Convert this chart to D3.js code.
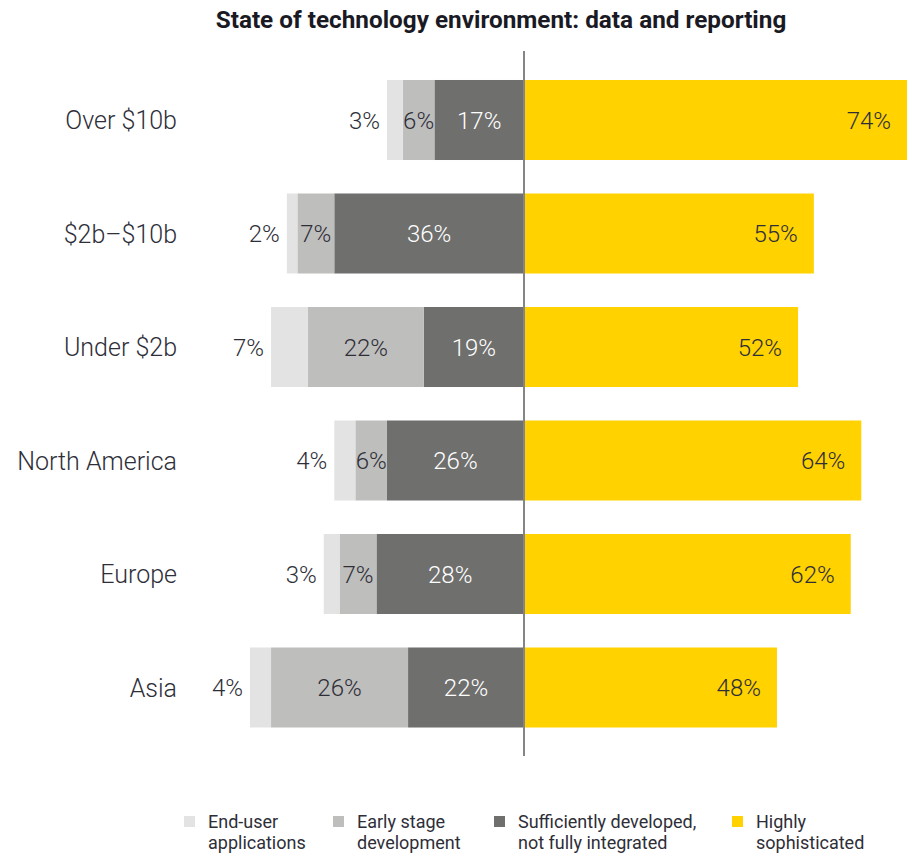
<!DOCTYPE html>
<html>
<head>
<meta charset="utf-8">
<script src="https://cdn.jsdelivr.net/npm/d3@7"></script>
<style>
  html, body { margin: 0; padding: 0; background: #ffffff; }
  svg { display: block; }
  text { font-family: Roboto, "Noto Sans", sans-serif; fill: #2e2e38; }
</style>
</head>
<body>
<svg id="chart" width="907" height="854"></svg>
<script>
// Survey groups, top to bottom
const categories = ["Over $10b", "$2b\u2013$10b", "Under $2b", "North America", "Europe", "Asia"];

// Share of respondents per maturity level (%)
const endUser      = [3, 2, 7, 4, 3, 4];
const earlyStage   = [6, 7, 22, 6, 7, 26];
const sufficiently = [17, 36, 19, 26, 28, 22];
const highly       = [74, 55, 52, 64, 62, 48];

const legendLabels = [
  ["End-user", "applications"],
  ["Early stage", "development"],
  ["Sufficiently developed,", "not fully integrated"],
  ["Highly", "sophisticated"]
];

const colors = {
  endUser: "#e3e3e3",
  early: "#bebebd",
  suff: "#6f6f6e",
  high: "#ffd200"
};

const svg = d3.select("#chart");
const W = 907, H = 854;

// Diverging axis: negative values extend left of the centre line
const x = d3.scaleLinear().domain([-100, 100]).range([524 - 527, 524 + 527]);
const y = d3.scaleBand()
  .domain(categories)
  .range([63.25, 744.25])
  .paddingInner(0.295)
  .paddingOuter(0.1475);

const rows = categories.map((c, i) => {
  const s = sufficiently[i], e = earlyStage[i], u = endUser[i], h = highly[i];
  return {
    cat: c,
    segs: [
      { key: "high", x0: 0, x1: h, v: h, color: colors.high, text: "#2e2e38", pos: "end" },
      { key: "suff", x0: -s, x1: 0, v: s, color: colors.suff, text: "#ffffff", pos: "mid" },
      { key: "early", x0: -s - e, x1: -s, v: e, color: colors.early, text: "#2e2e38", pos: "mid" },
      { key: "endUser", x0: -s - e - u, x1: -s - e, v: u, color: colors.endUser, text: "#2e2e38", pos: "outside" }
    ]
  };
});

svg.append("defs").append("clipPath").attr("id", "plotClip")
  .append("rect").attr("x", 0).attr("y", 0).attr("width", W).attr("height", H);

// Title
svg.append("text")
  .attr("x", 501).attr("y", 28)
  .attr("text-anchor", "middle")
  .style("font-weight", "700")
  .style("font-size", "24.3px")
  .style("fill", "#1a1a24")
  .text("State of technology environment: data and reporting");

const g = svg.append("g").attr("clip-path", "url(#plotClip)");

const rowG = g.selectAll("g.row").data(rows).enter().append("g")
  .attr("class", "row")
  .attr("transform", d => `translate(0,${y(d.cat)})`);

rowG.selectAll("rect").data(d => d.segs).enter().append("rect")
  .attr("x", d => x(d.x0))
  .attr("width", d => x(d.x1) - x(d.x0))
  .attr("y", 0)
  .attr("height", y.bandwidth())
  .attr("fill", d => d.color);

rowG.selectAll("text.val").data(d => d.segs).enter().append("text")
  .attr("class", "val")
  .attr("x", d => {
    if (d.pos === "end") return Math.min(x(d.x1), W) - 16;
    if (d.pos === "outside") return x(d.x0) - 7;
    return (x(d.x0) + x(d.x1)) / 2;
  })
  .attr("y", y.bandwidth() / 2)
  .attr("dy", "0.36em")
  .attr("text-anchor", d => d.pos === "mid" ? "middle" : "end")
  .style("font-size", "24px")
  .style("font-weight", "300")
  .style("fill", d => d.text)
  .text(d => d.v + "%");

// Category labels
svg.selectAll("text.cat").data(categories).enter().append("text")
  .attr("class", "cat")
  .attr("x", 177)
  .attr("y", d => y(d) + y.bandwidth() / 2)
  .attr("dy", "0.36em")
  .attr("text-anchor", "end")
  .style("font-size", "25px")
  .style("font-weight", "300")
  .text(d => d);

// Centre line
svg.append("line")
  .attr("x1", x(0)).attr("x2", x(0))
  .attr("y1", 51).attr("y2", 756)
  .attr("stroke", "#858585")
  .attr("stroke-width", 2);

// Legend
const legendX = [184, 333, 494, 732];
const legendColors = [colors.endUser, colors.early, colors.suff, colors.high];
const lg = svg.selectAll("g.leg").data(legendLabels).enter().append("g")
  .attr("class", "leg")
  .attr("transform", (d, i) => `translate(${legendX[i]},816)`);
lg.append("rect")
  .attr("width", 11).attr("height", 11)
  .attr("fill", (d, i) => legendColors[i]);
lg.each(function (d) {
  const t = d3.select(this).append("text")
    .attr("x", 24).attr("y", 12)
    .style("font-size", "18px");
  d.forEach((line, j) => {
    t.append("tspan").attr("x", 24).attr("dy", j === 0 ? 0 : 21).text(line);
  });
});
</script>
</body>
</html>
